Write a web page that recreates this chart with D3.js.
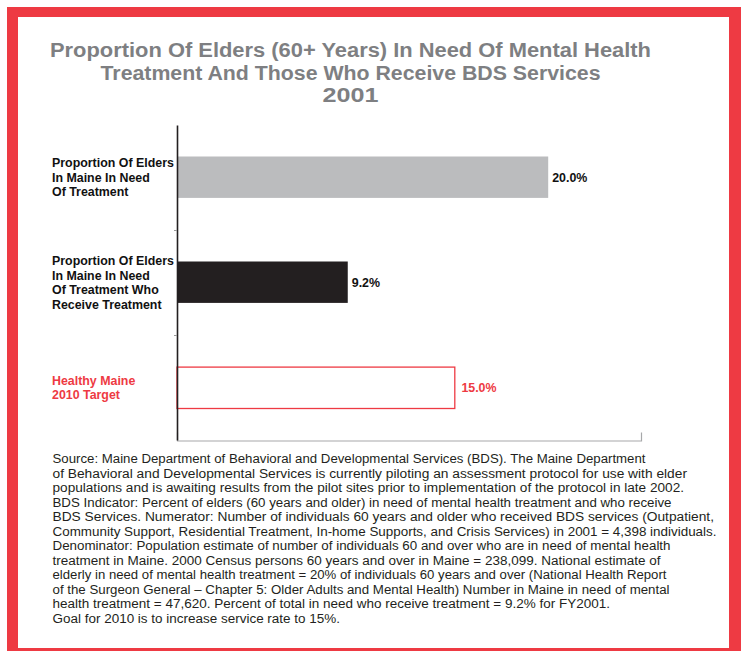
<!DOCTYPE html>
<html>
<head>
<meta charset="utf-8">
<script src="https://cdn.jsdelivr.net/npm/d3@7"></script>
<style>
  html, body { margin: 0; padding: 0; background: #ffffff; }
  svg { display: block; }
</style>
</head>
<body>
<svg id="chart" width="741" height="651"></svg>
<script>
// ---- data ----
const titleLines = [
  "Proportion Of Elders (60+ Years) In Need Of Mental Health",
  "Treatment And Those Who Receive BDS Services",
  "2001"
];
const categories = ["need", "receive", "target"];
const categoryLabels = [
  ["Proportion Of Elders", "In Maine In Need", "Of Treatment"],
  ["Proportion Of Elders", "In Maine In Need", "Of Treatment Who", "Receive Treatment"],
  ["Healthy Maine", "2010 Target"]
];
const values = [20.0, 9.2, 15.0];
const valueLabels = ["20.0%", "9.2%", "15.0%"];
const xDomain = [0, 25];
const sourceLines = [
  "Source: Maine Department of Behavioral and Developmental Services (BDS). The Maine Department",
  "of Behavioral and Developmental Services is currently piloting an assessment protocol for use with elder",
  "populations and is awaiting results from the pilot sites prior to implementation of the protocol in late 2002.",
  "BDS Indicator: Percent of elders (60 years and older) in need of mental health treatment and who receive",
  "BDS Services. Numerator: Number of individuals 60 years and older who received BDS services (Outpatient,",
  "Community Support, Residential Treatment, In-home Supports, and Crisis Services) in 2001 = 4,398 individuals.",
  "Denominator: Population estimate of number of individuals 60 and over who are in need of mental health",
  "treatment in Maine. 2000 Census persons 60 years and over in Maine = 238,099. National estimate of",
  "elderly in need of mental health treatment = 20% of individuals 60 years and over (National Health Report",
  "of the Surgeon General \u2013 Chapter 5: Older Adults and Mental Health) Number in Maine in need of mental",
  "health treatment = 47,620. Percent of total in need who receive treatment = 9.2% for FY2001.",
  "Goal for 2010 is to increase service rate to 15%."
];

// ---- styling / layout (not data) ----
const RED = "#ee3a43";
const fillColors = ["#bbbcbe", "#231f20", "#ffffff"];
const strokeColors = ["none", "none", RED];
const labelColors = ["#111111", "#111111", RED];
const titleWidths = [601, 500, 56];
const sourceWidths = [593, 634.5, 631.5, 619, 661.5, 664, 618, 608, 614, 617, 557.5, 287.5];

const svg = d3.select("#chart");

// red frame
svg.append("rect").attr("x", 7).attr("y", 7).attr("width", 741 - 7).attr("height", 651 - 7).attr("fill", RED);
svg.append("rect").attr("x", 18).attr("y", 17).attr("width", 729 - 18).attr("height", 648 - 17).attr("fill", "#ffffff");

// title
const titleBase = [57, 79.5, 102];
svg.append("g").selectAll("text").data(titleLines).join("text")
  .attr("x", 350.5)
  .attr("y", (d, i) => titleBase[i])
  .attr("text-anchor", "middle")
  .attr("font-family", "'Liberation Sans', Arial, sans-serif")
  .attr("font-weight", "bold")
  .attr("font-size", 20)
  .attr("fill", "#7e7f82")
  .attr("textLength", (d, i) => titleWidths[i])
  .attr("lengthAdjust", "spacingAndGlyphs")
  .text(d => d);

// scales
const x = d3.scaleLinear().domain(xDomain).range([177, 641]);
const y = d3.scaleBand().domain(categories).range([125, 440]).paddingInner(0.6).paddingOuter(0.3);
const yEdge = d3.scaleLinear().domain([0, categories.length]).range([125, 440]);

// x axis (light gray baseline)
const xAxisG = svg.append("g").attr("transform", "translate(0,440.5)")
  .call(d3.axisTop(x).tickValues([]).tickSizeOuter(8));
xAxisG.select(".domain").attr("stroke", "#a7a8aa").attr("stroke-width", 1.2);

// bars
svg.append("g").selectAll("rect").data(values).join("rect")
  .attr("x", x(0))
  .attr("y", (d, i) => y(categories[i]) + (strokeColors[i] !== "none" ? 0.6 : 0))
  .attr("width", (d, i) => x(d) - x(0) + (strokeColors[i] !== "none" ? -0.6 : 0))
  .attr("height", y.bandwidth() - 0.6)
  .attr("fill", (d, i) => fillColors[i])
  .attr("stroke", (d, i) => strokeColors[i])
  .attr("stroke-width", 1.3);

// y axis
const yAxisG = svg.append("g").attr("transform", "translate(177,0)")
  .call(d3.axisLeft(yEdge).tickValues([1, 2]).tickSize(3).tickSizeOuter(0).tickFormat(""));
yAxisG.select(".domain").attr("stroke", "#231f20").attr("stroke-width", 1.6);
yAxisG.selectAll(".tick line").attr("stroke", "#999999");

// category labels
const lineH = 14.6;
const labG = svg.append("g");
categoryLabels.forEach((lines, i) => {
  const cy = y(categories[i]) + y.bandwidth() / 2;
  const n = lines.length;
  labG.append("g").selectAll("text").data(lines).join("text")
    .attr("x", 52)
    .attr("y", (d, j) => cy + 4.3 + (j - (n - 1) / 2) * lineH)
    .attr("font-family", "'Liberation Sans', Arial, sans-serif")
    .attr("font-weight", "bold")
    .attr("font-size", 12.4)
    .attr("fill", labelColors[i])
    .text(d => d);
});

// value labels
svg.append("g").selectAll("text").data(values).join("text")
  .attr("x", (d, i) => x(d) + (i === 2 ? 6 : 4))
  .attr("y", (d, i) => y(categories[i]) + y.bandwidth() / 2 + 4.3)
  .attr("font-family", "'Liberation Sans', Arial, sans-serif")
  .attr("font-weight", "bold")
  .attr("font-size", 12.4)
  .attr("fill", (d, i) => labelColors[i])
  .text((d, i) => valueLabels[i]);

// source note
svg.append("g").selectAll("text").data(sourceLines).join("text")
  .attr("x", 52.5)
  .attr("y", (d, i) => 463 + i * 14.5)
  .attr("font-family", "'Liberation Sans', Arial, sans-serif")
  .attr("font-size", 12)
  .attr("fill", "#231f20")
  .attr("textLength", (d, i) => sourceWidths[i])
  .attr("lengthAdjust", "spacingAndGlyphs")
  .text(d => d);
</script>
</body>
</html>
